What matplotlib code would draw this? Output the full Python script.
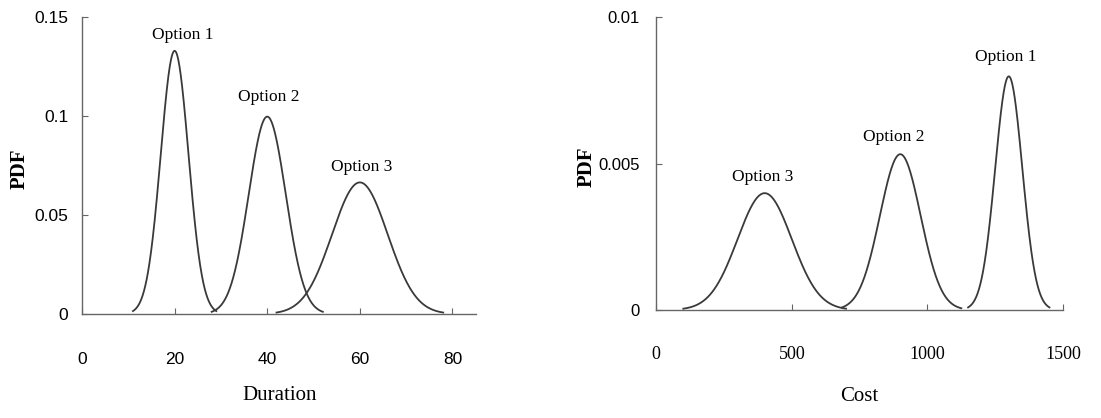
import numpy as np
import matplotlib
matplotlib.use("Agg")
import matplotlib.pyplot as plt

# ---- data (normal PDFs) ----
dur_labels = ["Option 1", "Option 2", "Option 3"]
dur_means = [20, 40, 60]
dur_stds = [3, 4, 6]
dur_lo = [11, 28, 42]
dur_hi = [29, 52, 78]
dur_label_x = [21.8, 40.3, 60.3]
dur_label_y = [0.141, 0.1096, 0.0742]

cost_labels = ["Option 1", "Option 2", "Option 3"]
cost_means = [1300, 900, 400]
cost_stds = [50, 75, 100]
cost_lo = [1150, 685, 100]
cost_hi = [1450, 1125, 700]
cost_label_x = [1290, 877, 394]
cost_label_y = [0.00864, 0.0059, 0.00454]

dur_xticks = [0, 20, 40, 60, 80]
dur_yticks = [0, 0.05, 0.1, 0.15]
dur_yticklabels = ["0", "0.05", "0.1", "0.15"]
cost_xticks = [0, 500, 1000, 1500]
cost_yticks = [0, 0.005, 0.01]
cost_yticklabels = ["0", "0.005", "0.01"]

SERIF = ["Liberation Serif", "DejaVu Serif"]
SANS = ["Liberation Sans", "DejaVu Sans"]
LINE = "#3a3a3a"
AX = "#666666"


def normpdf(x, m, s):
    return np.exp(-0.5 * ((x - m) / s) ** 2) / (s * np.sqrt(2 * np.pi))


fig = plt.figure(figsize=(11.01, 4.18), dpi=100)
ax1 = fig.add_axes([0.0745, 0.2488, 0.3575, 0.7102])
ax2 = fig.add_axes([0.596, 0.2584, 0.3695, 0.7006])


def style(ax):
    for side in ("top", "right"):
        ax.spines[side].set_visible(False)
    for side in ("left", "bottom"):
        ax.spines[side].set_color(AX)
        ax.spines[side].set_linewidth(1.0)
    ax.tick_params(direction="in", length=4, width=0.8, color=AX)


# left panel
for m, s, lo, hi, lab, lx, ly in zip(dur_means, dur_stds, dur_lo, dur_hi,
                                     dur_labels, dur_label_x, dur_label_y):
    x = np.linspace(lo, hi, 300)
    ax1.plot(x, normpdf(x, m, s), color=LINE, lw=1.3)
    ax1.text(lx, ly, lab, ha="center", va="center", family=SERIF,
             fontsize=12.5)
ax1.set_xlim(0, 85)
ax1.set_ylim(0, 0.15)
style(ax1)
ax1.set_xticks(dur_xticks)
ax1.set_xticklabels([str(v) for v in dur_xticks], family=SANS, fontsize=12.5)
ax1.set_yticks(dur_yticks)
ax1.set_yticklabels(dur_yticklabels, family=SANS, fontsize=12.5)
ax1.tick_params(axis="x", pad=27)
ax1.tick_params(axis="y", pad=10)
ax1.set_xlabel("Duration", family=SERIF, fontsize=15)
ax1.xaxis.set_label_coords(0.503, -0.273)
ax1.xaxis.label.set_va("center")
ax1.set_ylabel("PDF", family=SERIF, fontsize=15, fontweight="bold")
ax1.yaxis.set_label_coords(-0.158, 0.49)
ax1.yaxis.label.set_va("center")

# right panel
for m, s, lo, hi, lab, lx, ly in zip(cost_means, cost_stds, cost_lo, cost_hi,
                                     cost_labels, cost_label_x, cost_label_y):
    x = np.linspace(lo, hi, 300)
    ax2.plot(x, normpdf(x, m, s), color=LINE, lw=1.3)
    ax2.text(lx, ly, lab, ha="center", va="center", family=SERIF,
             fontsize=12.5)
ax2.set_xlim(0, 1500)
ax2.set_ylim(0, 0.01)
style(ax2)
ax2.set_xticks(cost_xticks)
ax2.set_xticklabels([str(v) for v in cost_xticks], family=SERIF, fontsize=13)
ax2.set_yticks(cost_yticks)
ax2.set_yticklabels(cost_yticklabels, family=SANS, fontsize=12)
ax2.tick_params(axis="x", pad=26)
ax2.tick_params(axis="y", pad=12)
ax2.set_xlabel("Cost", family=SERIF, fontsize=15)
ax2.xaxis.set_label_coords(0.50, -0.297)
ax2.xaxis.label.set_va("center")
ax2.set_ylabel("PDF", family=SERIF, fontsize=15, fontweight="bold")
ax2.yaxis.set_label_coords(-0.17, 0.49)
ax2.yaxis.label.set_va("center")

fig.savefig("out.png", dpi=100)
